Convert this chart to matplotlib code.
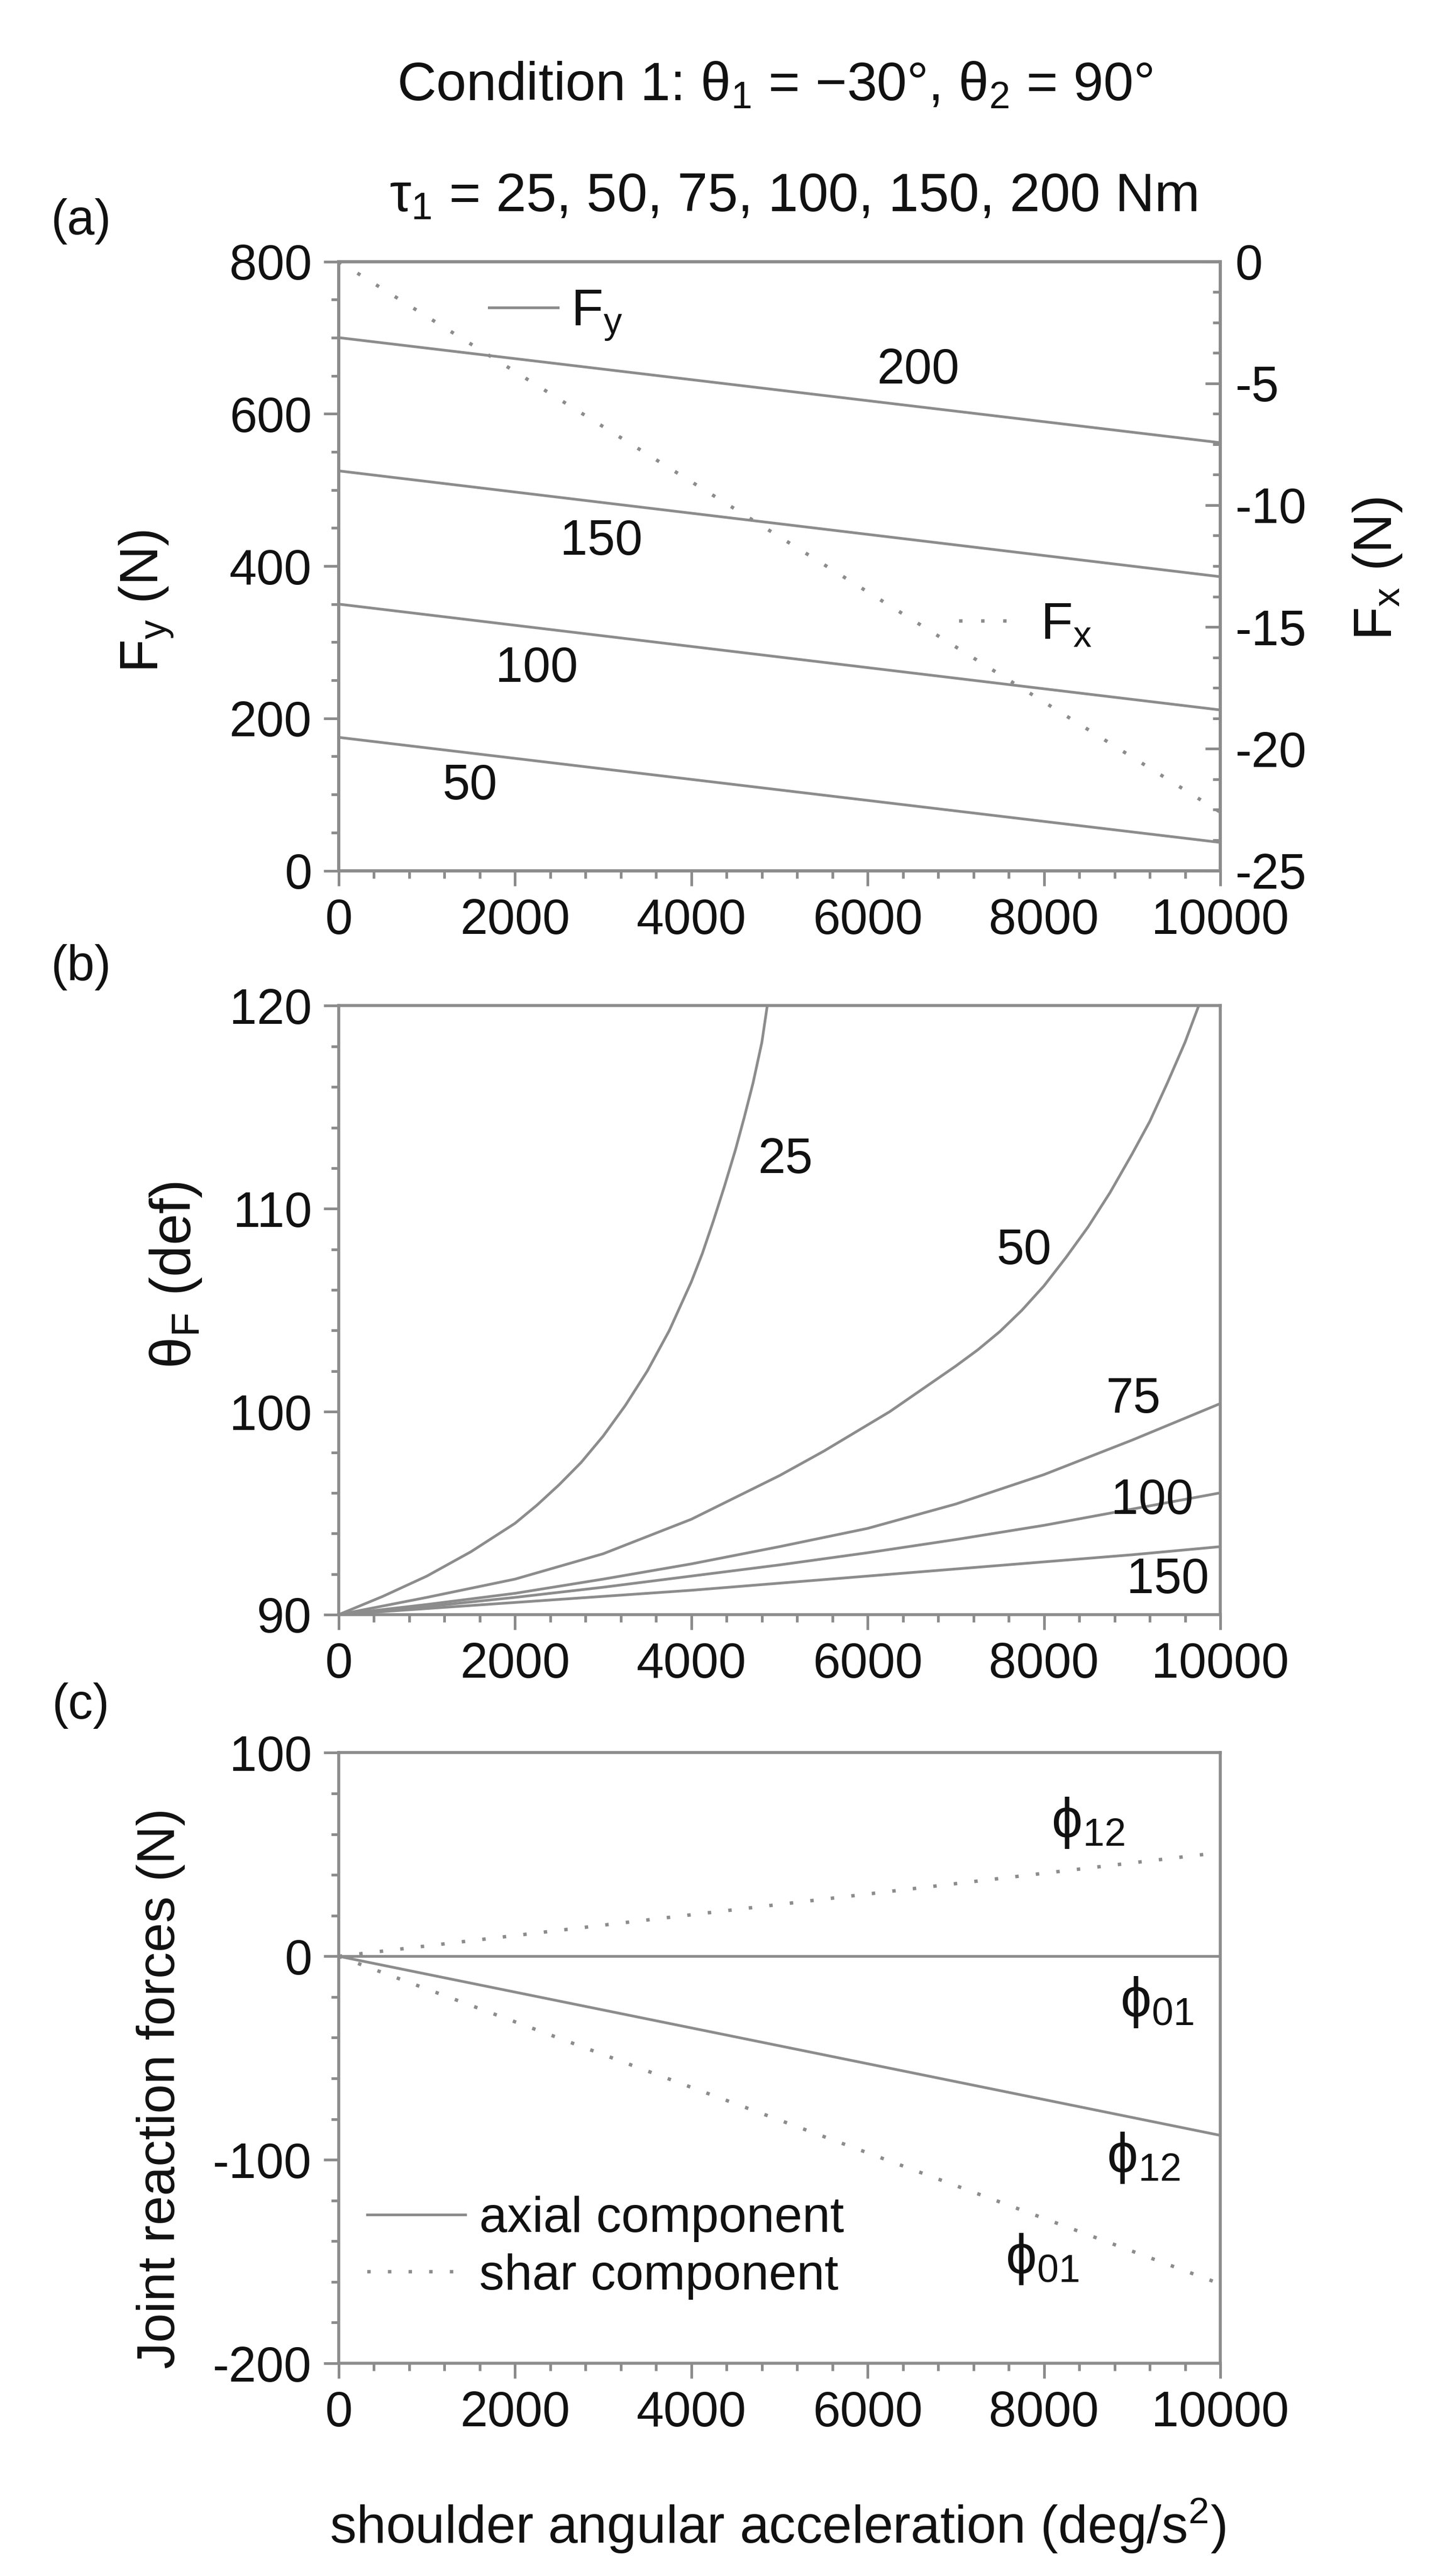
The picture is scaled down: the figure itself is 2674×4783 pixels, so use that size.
import matplotlib
matplotlib.use("Agg")
import matplotlib.pyplot as plt
from matplotlib.ticker import MultipleLocator

GRAY = "#8c8c8c"
INK = "#111111"

plt.rcParams.update({
    "font.family": ["Liberation Sans", "DejaVu Sans"],
    "font.size": 66,
    "mathtext.fontset": "custom",
    "mathtext.rm": "Liberation Sans",
    "mathtext.it": "Liberation Sans",
    "mathtext.sf": "Liberation Sans",
    "mathtext.bf": "Liberation Sans:bold",
    "mathtext.fallback": "stixsans",
    "mathtext.default": "regular",
    "axes.unicode_minus": False,
    "text.color": INK,
    "axes.labelcolor": INK,
})

# ---- data ----
accel = [0, 10000]

# (a) Fy for each torque, linear in acceleration
fy_torque = [50, 100, 150, 200]
fy_start = [175, 350, 525, 700]
fy_end = [37, 211, 386, 562]
fy_label_x = [1484, 2245, 2981, 6570]
fy_label_y = [111, 265, 432, 657]
fx_vals = [0, -22.6]

# (b) force angle theta_F (deg)
th_x_25 = [0, 500, 1000, 1500, 2000, 2250, 2500, 2750, 3000, 3250, 3500, 3750, 4000,
           4125, 4250, 4375, 4500, 4600, 4700, 4800, 4861]
th_25 = [90.0, 90.9, 91.9, 93.1, 94.5, 95.4, 96.4, 97.5, 98.8, 100.3, 102.0, 104.0, 106.4,
         107.8, 109.4, 111.1, 112.9, 114.5, 116.2, 118.2, 120.0]
th_x_50 = [0, 1000, 2000, 3000, 4000, 5000, 5500, 6000, 6250, 6500, 6750, 7000, 7250, 7500,
           7750, 8000, 8250, 8500, 8750, 9000, 9200, 9400, 9600, 9755]
th_50 = [90.0, 90.85, 91.75, 93.0, 94.7, 96.85, 98.05, 99.35, 100.0, 100.75, 101.5, 102.25,
         103.05, 103.95, 105.0, 106.2, 107.6, 109.1, 110.8, 112.7, 114.3, 116.2, 118.2, 120.0]
th_x = [0, 1000, 2000, 3000, 4000, 5000, 6000, 7000, 8000, 9000, 10000]
th_75 = [90.0, 90.5, 91.05, 91.75, 92.5, 93.35, 94.25, 95.45, 96.9, 98.6, 100.4]
th_100 = [90.0, 90.4, 90.85, 91.35, 91.9, 92.45, 93.05, 93.7, 94.4, 95.2, 96.0]
th_150 = [90.0, 90.3, 90.6, 90.9, 91.2, 91.55, 91.9, 92.25, 92.6, 92.95, 93.35]
th_labels = ["25", "50", "75", "100", "150"]
th_label_x = [5064, 7771, 9010, 9230, 9407]
th_label_y = [112.4, 107.9, 100.6, 95.6, 91.7]

# (c) joint reaction forces (N)
axial_01 = [0, 0]
axial_12 = [0, -88]
shear_12 = [0, 51]
shear_01 = [0, -161]
phi_labels = [r"$\phi_{12}$", r"$\phi_{01}$", r"$\phi_{12}$", r"$\phi_{01}$"]
phi_x = [8502, 9283, 9127, 7982]
phi_y = [65.6, -22.5, -99.1, -148.9]

LW = 3.6
DOT_LW = 4.6
DOT_A = (0, (1.0, 5.4))
DOT_C = (0, (1.0, 5.0))


def style(ax, ymaj, ymin):
    ax.set_xlim(0, 10000)
    ax.xaxis.set_major_locator(MultipleLocator(2000))
    ax.xaxis.set_minor_locator(MultipleLocator(400))
    ax.yaxis.set_major_locator(MultipleLocator(ymaj))
    ax.yaxis.set_minor_locator(MultipleLocator(ymin))
    for s in ax.spines.values():
        s.set_color(GRAY)
        s.set_linewidth(4)
    ax.tick_params(which="both", direction="out", color=GRAY, width=3.6,
                   labelcolor=INK, labelsize=66)
    ax.tick_params(which="major", length=20, pad=16)
    ax.tick_params(which="minor", length=10)


fig = plt.figure(figsize=(26.74, 47.83), dpi=100)
left, width = 0.23523, 0.61219

# ---------- (a) ----------
ax_a = fig.add_axes([left, 0.66203, width, 0.23646])
for t, y0, y1 in zip(fy_torque, fy_start, fy_end):
    ax_a.plot(accel, [y0, y1], color=GRAY, lw=LW)
for lab, x, y in zip(fy_torque, fy_label_x, fy_label_y):
    ax_a.text(x, y, str(lab), ha="center", va="center", fontsize=66)
ax_a.set_ylim(0, 800)
style(ax_a, 200, 50)
ax_a.set_ylabel("$F_y$ (N)", rotation=90, ha="center", va="center",
                rotation_mode="default")
ax_a.yaxis.set_label_coords(-0.2175, 0.4417)
fy_handle = ax_a.plot([], [], color=GRAY, lw=LW, label="$F_y$")[0]
ax_a.legend(handles=[fy_handle], loc="center left", bbox_to_anchor=(0.1707, 0.9116),
            frameon=False, borderpad=0, borderaxespad=0, handlelength=1.31,
            handletextpad=0.25, fontsize=70)

ax_a2 = ax_a.twinx()
fx_line, = ax_a2.plot(accel, fx_vals, color=GRAY, lw=DOT_LW, linestyle=DOT_A, label="$F_x$")
ax_a2.set_ylim(-25, 0)
ax_a2.yaxis.set_major_locator(MultipleLocator(5))
ax_a2.yaxis.set_minor_locator(MultipleLocator(1.25))
for s in ax_a2.spines.values():
    s.set_color(GRAY)
    s.set_linewidth(4)
ax_a2.tick_params(axis="y", which="both", direction="in", color=GRAY, width=3.6,
                  labelcolor=INK, labelsize=66)
ax_a2.tick_params(axis="y", which="major", length=20, pad=20)
ax_a2.tick_params(axis="y", which="minor", length=10)
ax_a2.set_ylabel("$F_x$ (N)", rotation=90, ha="center", va="center",
                 rotation_mode="default")
ax_a2.yaxis.set_label_coords(1.1784, 0.4956)
ax_a2.legend(handles=[fx_line], loc="center left", bbox_to_anchor=(0.7037, 0.4019),
             frameon=False, borderpad=0, borderaxespad=0, handlelength=1.2,
             handletextpad=0.35, fontsize=70)

# ---------- (b) ----------
ax_b = fig.add_axes([left, 0.37320, width, 0.23636])
ax_b.plot(th_x_25, th_25, color=GRAY, lw=LW)
ax_b.plot(th_x_50, th_50, color=GRAY, lw=LW)
for series in (th_75, th_100, th_150):
    ax_b.plot(th_x, series, color=GRAY, lw=LW)
for lab, x, y in zip(th_labels, th_label_x, th_label_y):
    ax_b.text(x, y, lab, ha="center", va="center", fontsize=66)
ax_b.set_ylim(90, 120)
style(ax_b, 10, 2)
ax_b.set_ylabel(r"$\theta_F$ (def)", rotation=90, ha="center", va="center",
                rotation_mode="default")
ax_b.yaxis.set_label_coords(-0.1850, 0.558)

# ---------- (c) ----------
ax_c = fig.add_axes([left, 0.08258, width, 0.23699])
h_ax, = ax_c.plot(accel, axial_01, color=GRAY, lw=LW, label="axial component")
ax_c.plot(accel, axial_12, color=GRAY, lw=LW)
h_sh, = ax_c.plot(accel, shear_12, color=GRAY, lw=DOT_LW, linestyle=DOT_C,
                  label="shar component")
ax_c.plot(accel, shear_01, color=GRAY, lw=DOT_LW, linestyle=DOT_C)
for lab, x, y in zip(phi_labels, phi_x, phi_y):
    ax_c.text(x, y, lab, ha="center", va="center", fontsize=74)
ax_c.set_ylim(-200, 100)
style(ax_c, 100, 20)
ax_c.legend(handles=[h_ax, h_sh], loc="center left", bbox_to_anchor=(0.0324, 0.1894),
            frameon=False, borderpad=0, borderaxespad=0, handlelength=1.96,
            handletextpad=0.28, labelspacing=0.22, fontsize=67)
ax_c.set_ylabel("Joint reaction forces (N)", rotation=90, ha="center", va="center",
                rotation_mode="default")
ax_c.yaxis.set_label_coords(-0.2022, 0.45)
ax_c.set_xlabel("shoulder angular acceleration (deg/s$^2$)", va="center")
ax_c.xaxis.set_label_coords(0.498, -0.2664)

# ---------- titles / panel tags ----------
title1 = fig.text(1439 / 2674, 1 - 186.5 / 4783,
                  r"Condition 1: $\theta_1$ = −30°, $\theta_2$ = 90°",
                  ha="center", va="baseline")
title2 = fig.text(1473 / 2674, 1 - 392 / 4783,
                  r"$\tau_1$ = 25, 50, 75, 100, 150, 200 Nm",
                  ha="center", va="baseline")
for tag, y in zip(["(a)", "(b)", "(c)"], [411, 1796, 3167]):
    fig.text(150 / 2674, 1 - y / 4783, tag, ha="center", va="center", fontsize=66)

# size the long texts so their extents match the reference (pixels)
fig.canvas.draw()
renderer = fig.canvas.get_renderer()
fits = [
    (title1, 1403, "w"),
    (title2, 1500, "w"),
    (ax_c.xaxis.label, 1663, "w"),
    (ax_a.yaxis.label, 265, "h"),
    (ax_a2.yaxis.label, 266, "h"),
    (ax_b.yaxis.label, 347, "h"),
    (ax_c.yaxis.label, 1041, "h"),
]
for txt, target, dim in fits:
    bb = txt.get_window_extent(renderer)
    size = bb.width if dim == "w" else bb.height
    txt.set_fontsize(txt.get_fontsize() * target / size)

fig.savefig("out.png", dpi=100, facecolor="white")
